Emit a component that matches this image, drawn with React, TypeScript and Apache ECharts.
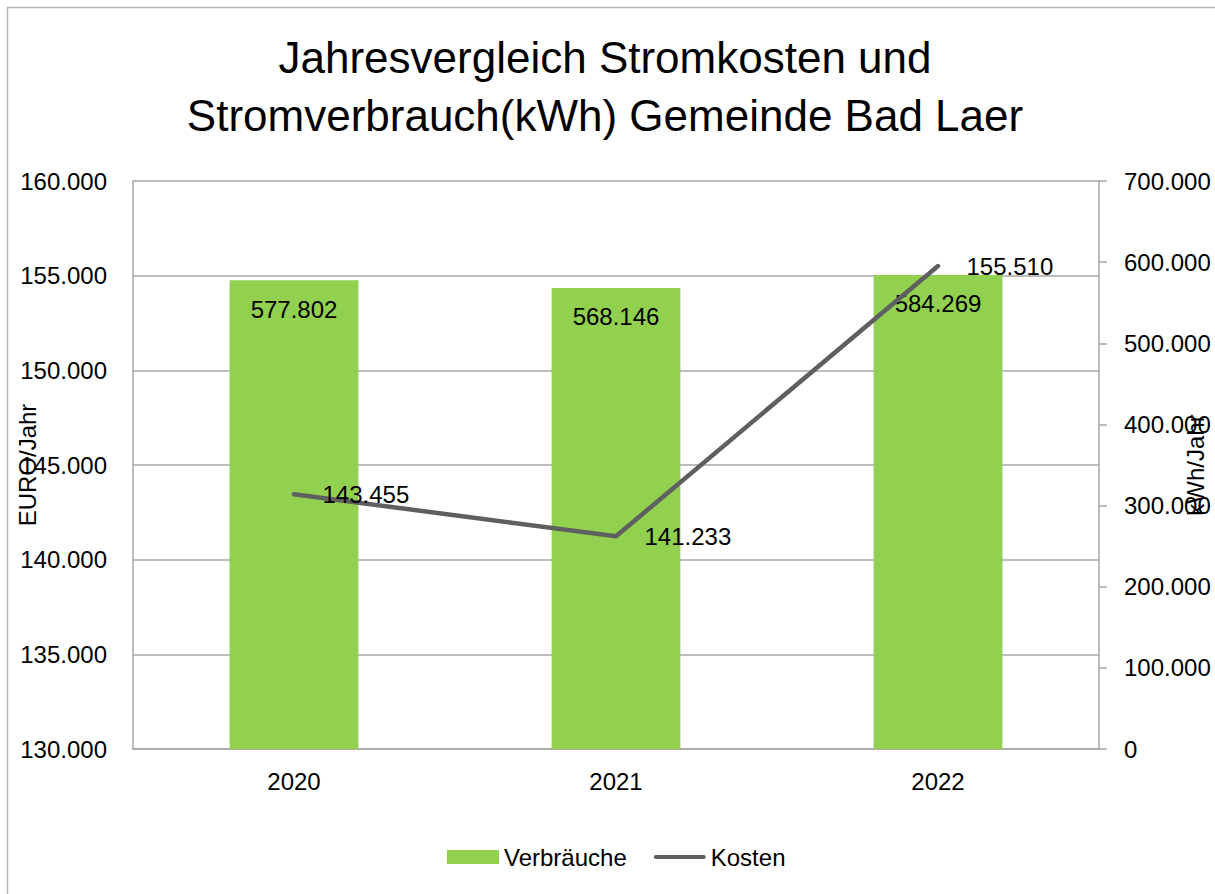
import React, { useEffect, useRef } from "react";
import * as echarts from "echarts";

const categories = ["2020", "2021", "2022"];
const verbraeuche = [577802, 568146, 584269];
const kosten = [143455, 141233, 155510];
const titleLines = ["Jahresvergleich Stromkosten und", "Stromverbrauch(kWh) Gemeinde Bad Laer"];

const fmt = (v: number) => String(v).replace(/\B(?=(\d{3})+(?!\d))/g, ".");

const FONT = "'Liberation Sans', Arial, sans-serif";
const GRID = "#a6a6a6";
const LINE = "#5f5f5f";

export default function App() {
  const ref = useRef<HTMLDivElement>(null);
  useEffect(() => {
    if (!ref.current) return;
    const chart = echarts.init(ref.current, null, { renderer: "svg" });
    chart.setOption({
      animation: false,
      backgroundColor: "#ffffff",
      textStyle: { fontFamily: FONT, color: "#000" },
      title: {
        text: titleLines.join("\n"),
        left: 600,
        top: 23,
        textAlign: "center",
        textStyle: { fontFamily: FONT, fontSize: 44, fontWeight: "normal", color: "#000", lineHeight: 58 },
      },
      graphic: [
        {
          type: "rect",
          shape: { x: 7.5, y: 7.5, width: 1300, height: 1000 },
          style: { fill: "none", stroke: "#b3b3b3", lineWidth: 1.5 },
          silent: true,
        },
      ],
      legend: {
        left: 442,
        top: 840,
        itemWidth: 52,
        itemHeight: 14,
        itemGap: 27,
        textStyle: { fontFamily: FONT, fontSize: 24, color: "#000" },
        data: [
          { name: "Verbräuche", icon: "rect", itemStyle: { color: "#92d050" } },
          {
            name: "Kosten",
            icon: "path://M2,0 L50,0 A2,2 0 0 1 50,4 L2,4 A2,2 0 0 1 2,0 Z",
            itemStyle: { color: LINE, opacity: 1 },
          },
        ],
      },
      grid: { left: 133, right: 116, top: 181, bottom: 145, containLabel: false, outerBoundsMode: "none" },
      xAxis: {
        type: "category",
        data: categories,
        axisTick: { show: false },
        axisLine: { lineStyle: { color: GRID, width: 1.5 } },
        axisLabel: { fontFamily: FONT, fontSize: 24, color: "#000", margin: 20 },
      },
      yAxis: [
        {
          type: "value",
          min: 130000,
          max: 160000,
          interval: 5000,
          position: "left",
          name: "EURO/Jahr",
          nameLocation: "middle",
          nameRotate: 90,
          nameGap: 94,
          nameMoveOverlap: false,
          nameTextStyle: { fontFamily: FONT, fontSize: 24, color: "#000" },
          axisLine: { show: true, lineStyle: { color: GRID, width: 1.5 } },
          axisTick: { show: false },
          splitLine: { show: true, lineStyle: { color: GRID, width: 1.5 } },
          axisLabel: { fontFamily: FONT, fontSize: 24, color: "#000", margin: 26, formatter: (v: number) => fmt(v) },
        },
        {
          type: "value",
          min: 0,
          max: 700000,
          interval: 100000,
          position: "right",
          name: "kWh/Jahr",
          nameLocation: "middle",
          nameRotate: 90,
          nameGap: 84,
          nameMoveOverlap: false,
          nameTextStyle: { fontFamily: FONT, fontSize: 24, color: "#000" },
          axisLine: { show: true, lineStyle: { color: GRID, width: 1.5 } },
          axisTick: { show: true, length: 8, lineStyle: { color: GRID, width: 1.5 } },
          splitLine: { show: false },
          axisLabel: { fontFamily: FONT, fontSize: 24, color: "#000", margin: 25, formatter: (v: number) => fmt(v) },
        },
      ],
      series: [
        {
          name: "Verbräuche",
          type: "bar",
          yAxisIndex: 1,
          data: verbraeuche,
          barWidth: "40%",
          itemStyle: { color: "#92d050" },
          label: {
            show: true,
            position: "insideTop",
            distance: 17,
            fontFamily: FONT,
            fontSize: 24,
            color: "#000",
            formatter: (p: any) => fmt(p.value),
          },
        },
        {
          name: "Kosten",
          type: "line",
          yAxisIndex: 0,
          data: kosten,
          symbol: "circle",
          symbolSize: 1,
          showSymbol: true,
          lineStyle: { color: LINE, width: 4.5, cap: "round" },
          itemStyle: { color: "rgba(0,0,0,0)" },
          z: 5,
          label: {
            show: true,
            position: "right",
            distance: 28,
            fontFamily: FONT,
            fontSize: 24,
            color: "#000",
            formatter: (p: any) => fmt(p.value),
          },
        },
      ],
    });
    return () => chart.dispose();
  }, []);
  return (
    <div
      ref={ref}
      style={{ position: "absolute", left: 0, top: 0, width: 1215, height: 894 }}
    />
  );
}
